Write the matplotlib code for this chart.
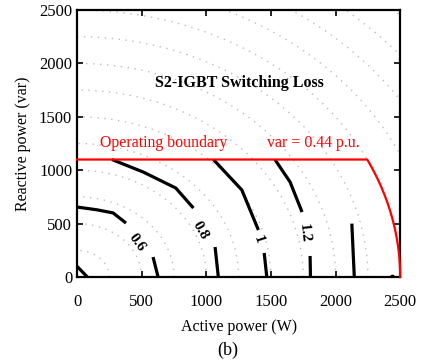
import numpy as np
import matplotlib.pyplot as plt

plt.rcParams['font.family'] = ['Liberation Serif', 'DejaVu Serif']

# contour segments (active W, reactive var)
c04_x = [0, 80]
c04_y = [100, 0]
c06a_x = [0, 150, 279, 379]
c06a_y = [655, 630, 600, 505]
c06b_x = [588, 627]
c06b_y = [187, 0]
c08a_x = [270, 512, 764, 900]
c08a_y = [1100, 983, 833, 646]
c08b_x = [1068, 1093]
c08b_y = [281, 0]
c10a_x = [1055, 1275, 1403]
c10a_y = [1100, 815, 440]
c10b_x = [1448, 1468]
c10b_y = [225, 0]
c12a_x = [1531, 1648, 1741]
c12a_y = [1100, 890, 608]
c12b_x = [1803, 1806]
c12b_y = [197, 0]
c14_x = [2126, 2145]
c14_y = [500, 0]

segments = [(c04_x, c04_y), (c06a_x, c06a_y), (c06b_x, c06b_y),
            (c08a_x, c08a_y), (c08b_x, c08b_y), (c10a_x, c10a_y),
            (c10b_x, c10b_y), (c12a_x, c12a_y), (c12b_x, c12b_y),
            (c14_x, c14_y)]

labels = ['0.6', '0.8', '1', '1.2']
label_x = [463, 952, 1403, 1757]
label_y = [318, 440, 346, 412]
label_rot = [-54, -60, -72, -84]

s_rated = 2500
q_limit = 1100

fig = plt.figure(figsize=(4.28, 3.64), dpi=100)
ax = fig.add_axes([0.18, 0.239, 0.755, 0.7335])

# dotted circles of constant apparent power
th = np.linspace(0, np.pi / 2, 300)
for r in np.arange(250, 3750, 250):
    ax.plot(r * np.cos(th), r * np.sin(th), color='#bdbdbd', lw=1.0,
            ls=(0, (1, 4)), zorder=1)

for xs, ys in segments:
    ax.plot(xs, ys, color='black', lw=2.3, solid_capstyle='butt', zorder=3)
ax.plot([2436], [0], 'o', color='black', ms=3, zorder=3)

for t, x, y, r in zip(labels, label_x, label_y, label_rot):
    ax.text(x, y, t, rotation=r, ha='center', va='center', fontsize=11,
            fontweight='bold', zorder=4)

# operating boundary
p_edge = np.sqrt(s_rated**2 - q_limit**2)
th2 = np.linspace(np.arcsin(q_limit / s_rated), 0, 100)
bx = np.concatenate([[0], s_rated * np.cos(th2)])
by = np.concatenate([[q_limit], s_rated * np.sin(th2)])
ax.plot(bx, by, color='red', lw=1.6, zorder=5, clip_on=False)

ax.text(178, 1254, 'Operating boundary', color='red', fontsize=11.4, va='center')
ax.text(1827, 1254, 'var = 0.44 p.u.', color='red', fontsize=11.4,
        ha='center', va='center')
ax.text(1254, 1816, 'S2-IGBT Switching Loss', fontsize=11.5, fontweight='bold',
        ha='center', va='center')

ax.set_xlim(0, 2500)
ax.set_ylim(0, 2500)
ax.set_xticks(np.arange(0, 2501, 500))
ax.set_yticks(np.arange(0, 2501, 500))
ax.tick_params(direction='in', top=True, right=True, length=4, width=1.2,
               labelsize=12)
ax.tick_params(axis='x', pad=12)
for s in ax.spines.values():
    s.set_linewidth(1.6)
ax.set_xlabel('Active power (W)', fontsize=11.5, labelpad=7)
ax.set_ylabel('Reactive power (var)', fontsize=11.5, labelpad=6)
fig.text(0.533, 0.038, '(b)', fontsize=13, ha='center', va='center')

plt.savefig('out.png', dpi=100)
